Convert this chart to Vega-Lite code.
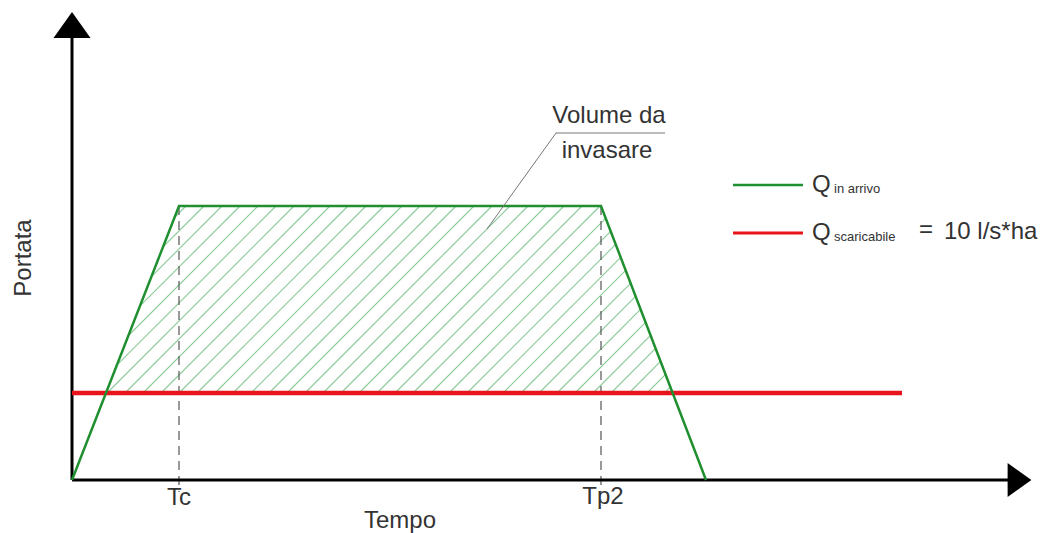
{
  "$schema": "https://vega.github.io/schema/vega-lite/v6.json",
  "width": 1046,
  "height": 533,
  "padding": 0,
  "autosize": {"type": "none"},
  "background": "white",
  "config": {"view": {"stroke": null}},
  "encoding": {
    "x": {"field": "x", "type": "quantitative", "scale": {"domain": [-72, 974], "nice": false, "zero": false}, "axis": null},
    "y": {"field": "y", "type": "quantitative", "scale": {"domain": [-53, 480], "nice": false, "zero": false}, "axis": null}
  },
  "layer": [
    {
      "data": {"values": [
        {"x": 102.6, "y": 262.6, "x2": 114, "y2": 274},
        {"x": 91.3, "y": 233.3, "x2": 132, "y2": 274},
        {"x": 80.1, "y": 204.1, "x2": 150, "y2": 274},
        {"x": 68.8, "y": 174.8, "x2": 168, "y2": 274},
        {"x": 57.5, "y": 145.5, "x2": 186, "y2": 274},
        {"x": 46.3, "y": 116.3, "x2": 204, "y2": 274},
        {"x": 35, "y": 87, "x2": 222, "y2": 274},
        {"x": 53, "y": 87, "x2": 240, "y2": 274},
        {"x": 71, "y": 87, "x2": 258, "y2": 274},
        {"x": 89, "y": 87, "x2": 276, "y2": 274},
        {"x": 107, "y": 87, "x2": 294, "y2": 274},
        {"x": 125, "y": 87, "x2": 312, "y2": 274},
        {"x": 143, "y": 87, "x2": 330, "y2": 274},
        {"x": 161, "y": 87, "x2": 348, "y2": 274},
        {"x": 179, "y": 87, "x2": 366, "y2": 274},
        {"x": 197, "y": 87, "x2": 384, "y2": 274},
        {"x": 215, "y": 87, "x2": 402, "y2": 274},
        {"x": 233, "y": 87, "x2": 420, "y2": 274},
        {"x": 251, "y": 87, "x2": 438, "y2": 274},
        {"x": 269, "y": 87, "x2": 456, "y2": 274},
        {"x": 287, "y": 87, "x2": 474, "y2": 274},
        {"x": 305, "y": 87, "x2": 492, "y2": 274},
        {"x": 323, "y": 87, "x2": 510, "y2": 274},
        {"x": 341, "y": 87, "x2": 528, "y2": 274},
        {"x": 359, "y": 87, "x2": 533.7, "y2": 261.7},
        {"x": 377, "y": 87, "x2": 538.7, "y2": 248.7},
        {"x": 395, "y": 87, "x2": 543.7, "y2": 235.7},
        {"x": 413, "y": 87, "x2": 548.7, "y2": 222.7},
        {"x": 431, "y": 87, "x2": 553.7, "y2": 209.7},
        {"x": 449, "y": 87, "x2": 558.8, "y2": 196.8},
        {"x": 467, "y": 87, "x2": 563.8, "y2": 183.8},
        {"x": 485, "y": 87, "x2": 568.8, "y2": 170.8},
        {"x": 503, "y": 87, "x2": 573.8, "y2": 157.8},
        {"x": 521, "y": 87, "x2": 578.8, "y2": 144.8},
        {"x": 539, "y": 87, "x2": 583.8, "y2": 131.8},
        {"x": 557, "y": 87, "x2": 588.8, "y2": 118.8},
        {"x": 575, "y": 87, "x2": 593.8, "y2": 105.8},
        {"x": 593, "y": 87, "x2": 598.8, "y2": 93.8}
      ]},
      "mark": {"type": "rule", "stroke": "#62b874", "strokeWidth": 1.1, "strokeOpacity": 0.75},
      "encoding": {"x2": {"field": "x2"}, "y2": {"field": "y2"}}
    },
    {
      "data": {"values": [
        {"x": 107, "y": 274, "x2": 107, "y2": -12},
        {"x": 529, "y": 274, "x2": 529, "y2": -12}
      ]},
      "mark": {"type": "rule", "color": "#555555", "strokeWidth": 1.2, "strokeDash": [9, 6]},
      "encoding": {"x2": {"field": "x2"}, "y2": {"field": "y2"}}
    },
    {
      "data": {"values": [
        {"x": 0, "y": 0, "x2": 0, "y2": 444},
        {"x": 0, "y": 0, "x2": 937, "y2": 0}
      ]},
      "mark": {"type": "rule", "color": "black", "strokeWidth": 3},
      "encoding": {"x2": {"field": "x2"}, "y2": {"field": "y2"}}
    },
    {
      "data": {"values": [{"x": 0, "y": 455}]},
      "mark": {"type": "point", "shape": "M0,-0.7L1,0.7L-1,0.7Z", "size": 1369, "filled": true, "color": "black", "opacity": 1, "strokeWidth": 0}
    },
    {
      "data": {"values": [{"x": 947.5, "y": 0}]},
      "mark": {"type": "point", "shape": "M0.7,0L-0.7,1L-0.7,-1Z", "size": 1156, "filled": true, "color": "black", "opacity": 1, "strokeWidth": 0}
    },
    {
      "data": {"values": [
        {"x": 0, "y": 87, "x2": 830, "y2": 87}
      ]},
      "mark": {"type": "rule", "color": "#e8141c", "strokeWidth": 4.5},
      "encoding": {"x2": {"field": "x2"}, "y2": {"field": "y2"}}
    },
    {
      "data": {"values": [
        {"i": 0, "x": 0, "y": 0},
        {"i": 1, "x": 107, "y": 274},
        {"i": 2, "x": 529, "y": 274},
        {"i": 3, "x": 634, "y": 0}
      ]},
      "mark": {"type": "line", "color": "#1f8f2f", "strokeWidth": 2.5, "strokeJoin": "miter"},
      "encoding": {"order": {"field": "i"}}
    },
    {
      "data": {"values": [
        {"i": 0, "x": 415, "y": 251},
        {"i": 1, "x": 484, "y": 347},
        {"i": 2, "x": 593, "y": 347}
      ]},
      "mark": {"type": "line", "color": "#777777", "strokeWidth": 1},
      "encoding": {"order": {"field": "i"}}
    },
    {
      "data": {"values": [
        {"x": 661, "y": 295, "x2": 731, "y2": 295}
      ]},
      "mark": {"type": "rule", "color": "#1f8f2f", "strokeWidth": 2.5},
      "encoding": {"x2": {"field": "x2"}, "y2": {"field": "y2"}}
    },
    {
      "data": {"values": [
        {"x": 661, "y": 247, "x2": 731, "y2": 247}
      ]},
      "mark": {"type": "rule", "color": "#e8141c", "strokeWidth": 3},
      "encoding": {"x2": {"field": "x2"}, "y2": {"field": "y2"}}
    },
    {
      "data": {"values": [
        {"x": 107, "y": -18, "t": "Tc"},
        {"x": 531, "y": -17, "t": "Tp2"},
        {"x": 328, "y": -41, "t": "Tempo"},
        {"x": 537, "y": 364, "t": "Volume da"},
        {"x": 535, "y": 329, "t": "invasare"},
        {"x": 854, "y": 250, "t": "="}
      ]},
      "mark": {"type": "text", "align": "center", "baseline": "middle", "fontSize": 24, "font": "Liberation Sans, Arial, sans-serif", "color": "#333333"},
      "encoding": {"text": {"field": "t"}}
    },
    {
      "data": {"values": [
        {"x": 740, "y": 295, "t": "Q"},
        {"x": 740, "y": 247, "t": "Q"},
        {"x": 872, "y": 248, "t": "10 l/s*ha"}
      ]},
      "mark": {"type": "text", "align": "left", "baseline": "middle", "fontSize": 24, "font": "Liberation Sans, Arial, sans-serif", "color": "#333333"},
      "encoding": {"text": {"field": "t"}}
    },
    {
      "data": {"values": [
        {"x": 762, "y": 291, "t": "in arrivo"},
        {"x": 762, "y": 243, "t": "scaricabile"}
      ]},
      "mark": {"type": "text", "align": "left", "baseline": "middle", "fontSize": 13, "font": "Liberation Sans, Arial, sans-serif", "color": "#333333"},
      "encoding": {"text": {"field": "t"}}
    },
    {
      "data": {"values": [
        {"x": -48, "y": 222, "t": "Portata"}
      ]},
      "mark": {"type": "text", "align": "center", "baseline": "middle", "angle": 270, "fontSize": 24, "font": "Liberation Sans, Arial, sans-serif", "color": "#333333"},
      "encoding": {"text": {"field": "t"}}
    }
  ]
}
